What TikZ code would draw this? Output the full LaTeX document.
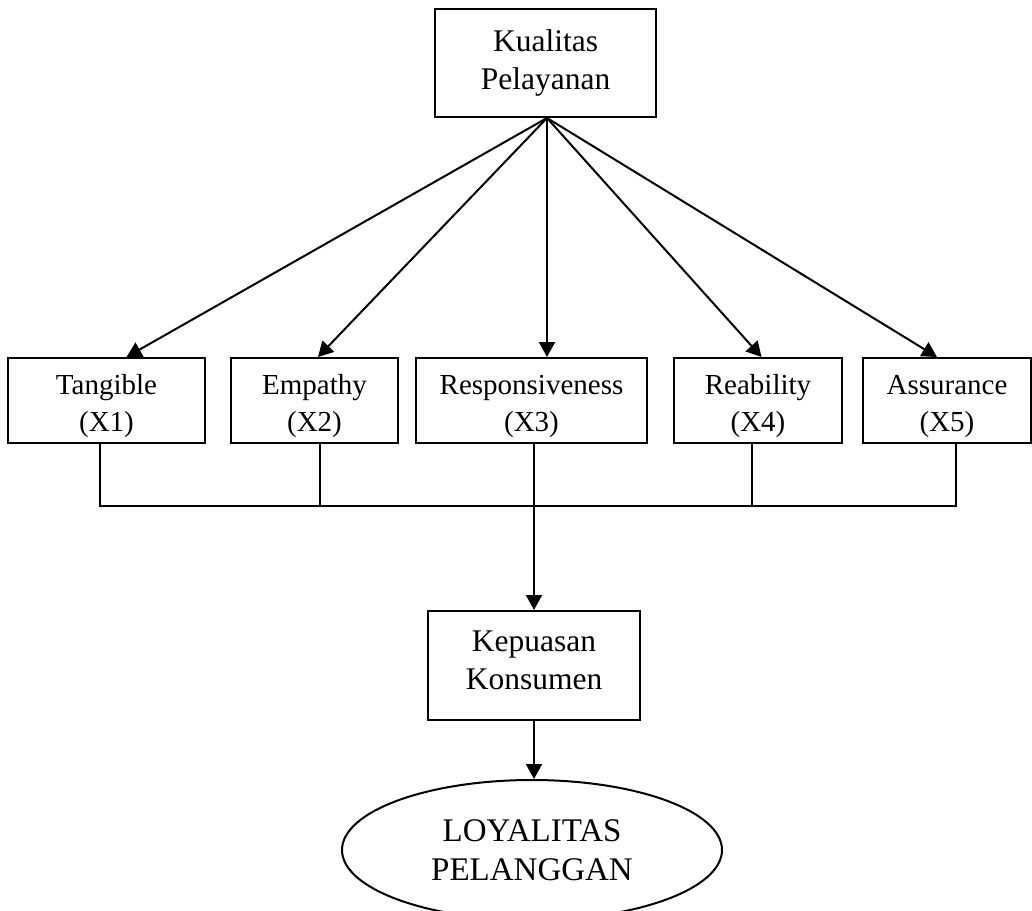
\documentclass[tikz,border=0pt]{standalone}
\usepackage{fontspec}
\setmainfont{Liberation Serif}
\usetikzlibrary{arrows.meta,shapes.geometric}
% struts that move a two-line label down / up inside its box
\newcommand{\toppad}{\rule{0pt}{31pt}}
\newcommand{\botpad}{\rule[-10pt]{0pt}{10pt}}
\begin{document}
\begin{tikzpicture}[x=1pt,y=-1pt,
  line width=2pt,
  box/.style={draw,rectangle,inner sep=0pt,align=center},
  big/.style={font=\fontsize{31.5}{38}\selectfont},
  small/.style={font=\fontsize{29}{37}\selectfont},
  dim/.style={minimum height=85pt},
  arr/.style={-{Triangle[length=15pt,width=16pt]}}]
\useasboundingbox (0,0) rectangle (1032,910);

% top construct
\node[box,big,minimum width=221pt,minimum height=108pt] (kp) at (545.5,63) {Kualitas\\Pelayanan};

% five dimensions
\node[box,small,dim,minimum width=197pt]   (x1) at (106.5,400.5) {\toppad Tangible\\(X1)};
\node[box,small,dim,minimum width=167pt]   (x2) at (314.5,400.5) {\toppad Empathy\\(X2)};
\node[box,small,dim,minimum width=231.6pt] (x3) at (531.5,400.5) {\toppad Responsiveness\\(X3)};
\node[box,small,dim,minimum width=168.6pt] (x4) at (758,400.5) {\toppad Reability\\(X4)};
\node[box,small,dim,minimum width=167.5pt] (x5) at (947,400.5) {\toppad Assurance\\(X5)};

% satisfaction and loyalty
\node[box,big,minimum width=212pt,minimum height=109pt] (kk) at (534,665.5) {Kepuasan\\Konsumen\botpad};
\node[draw,ellipse,align=center,inner sep=0pt,minimum width=380pt,minimum height=140pt,
      font=\fontsize{33}{39}\selectfont] (lp) at (532,850) {LOYALITAS\\PELANGGAN};

% fan of arrows
\coordinate (src) at ([xshift=1.5pt]kp.south);
\draw[arr] (src) -- ([xshift=20pt]x1.north);
\draw[arr] (src) -- ([xshift=3.5pt]x2.north);
\draw[arr] (src) -- ([xshift=15.5pt]x3.north);
\draw[arr] (src) -- ([xshift=3.5pt]x4.north);
\draw[arr] (src) -- ([xshift=-10pt]x5.north);

% collecting bus
\coordinate (busL) at ([xshift=-6.5pt]x1.south |- 0,505.5);
\coordinate (busR) at ([xshift=9pt]x5.south |- 0,505.5);
\draw ([xshift=-6.5pt]x1.south) |- (busR) -- ([xshift=9pt]x5.south);
\draw ([xshift=5.5pt]x2.south) -- ([xshift=5.5pt]x2.south |- busL);
\draw ([xshift=-6pt]x4.south) -- ([xshift=-6pt]x4.south |- busL);
\draw[arr] ([xshift=2.5pt]x3.south) -- (kk.north);
\draw[arr] (kk.south) -- (kk.south |- lp.north);
\end{tikzpicture}
\end{document}
